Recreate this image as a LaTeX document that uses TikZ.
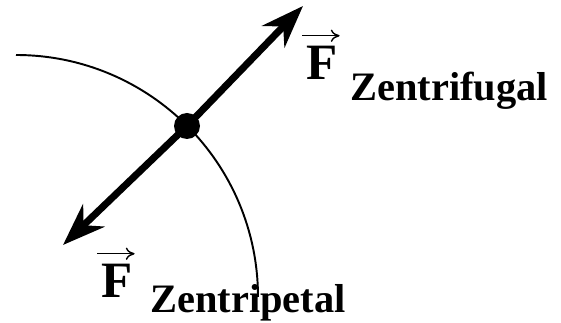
\documentclass[tikz,border=0pt]{standalone}
\usepackage{fontspec}
\setmainfont{Liberation Serif}
\usetikzlibrary{arrows.meta}
\tikzset{
  force/.style={line width=4pt,-{Stealth[length=0.85cm,width=0.62cm,inset=0.28cm]}},
  vecbar/.style={line width=0.8pt,-{To[length=5pt,width=7pt]}},
  bigletter/.style={font=\bfseries\fontsize{29}{29}\selectfont,anchor=base west,inner sep=0pt},
  subtext/.style={font=\bfseries\fontsize{23}{23}\selectfont,anchor=base west,inner sep=0pt}
}
\begin{document}
\begin{tikzpicture}[x=0.02cm,y=-0.02cm]
    \useasboundingbox (0,0) rectangle (561,323);
    % path of the body: quarter circle round (16,297)
    \draw[line width=1.1pt] (16,55) arc[start angle=-90,end angle=0,radius=242];
    \node[circle,fill,inner sep=0pt,minimum size=0.52cm] (body) at (187,126) {};
    \coordinate (outtip) at (303,6);
    \coordinate (intip) at (63,245);
    \draw[force] (body.center) -- (outtip);
    \draw[force] (body.center) -- (intip);
    % labels
    \node[bigletter] (fout) at (306,80) {F};
    \node[subtext] (subout) at (350,101) {Zentrifugal};
    \node[bigletter] (fin) at (101,298) {F};
    \node[subtext] (subin) at (150,313) {Zentripetal};
    \draw[vecbar] ([yshift=6pt,xshift=-2pt]fout.north west) -- ([yshift=6pt,xshift=1pt]fout.north east);
    \draw[vecbar] ([yshift=6pt,xshift=-2pt]fin.north west) -- ([yshift=6pt,xshift=1pt]fin.north east);
\end{tikzpicture}
\end{document}
